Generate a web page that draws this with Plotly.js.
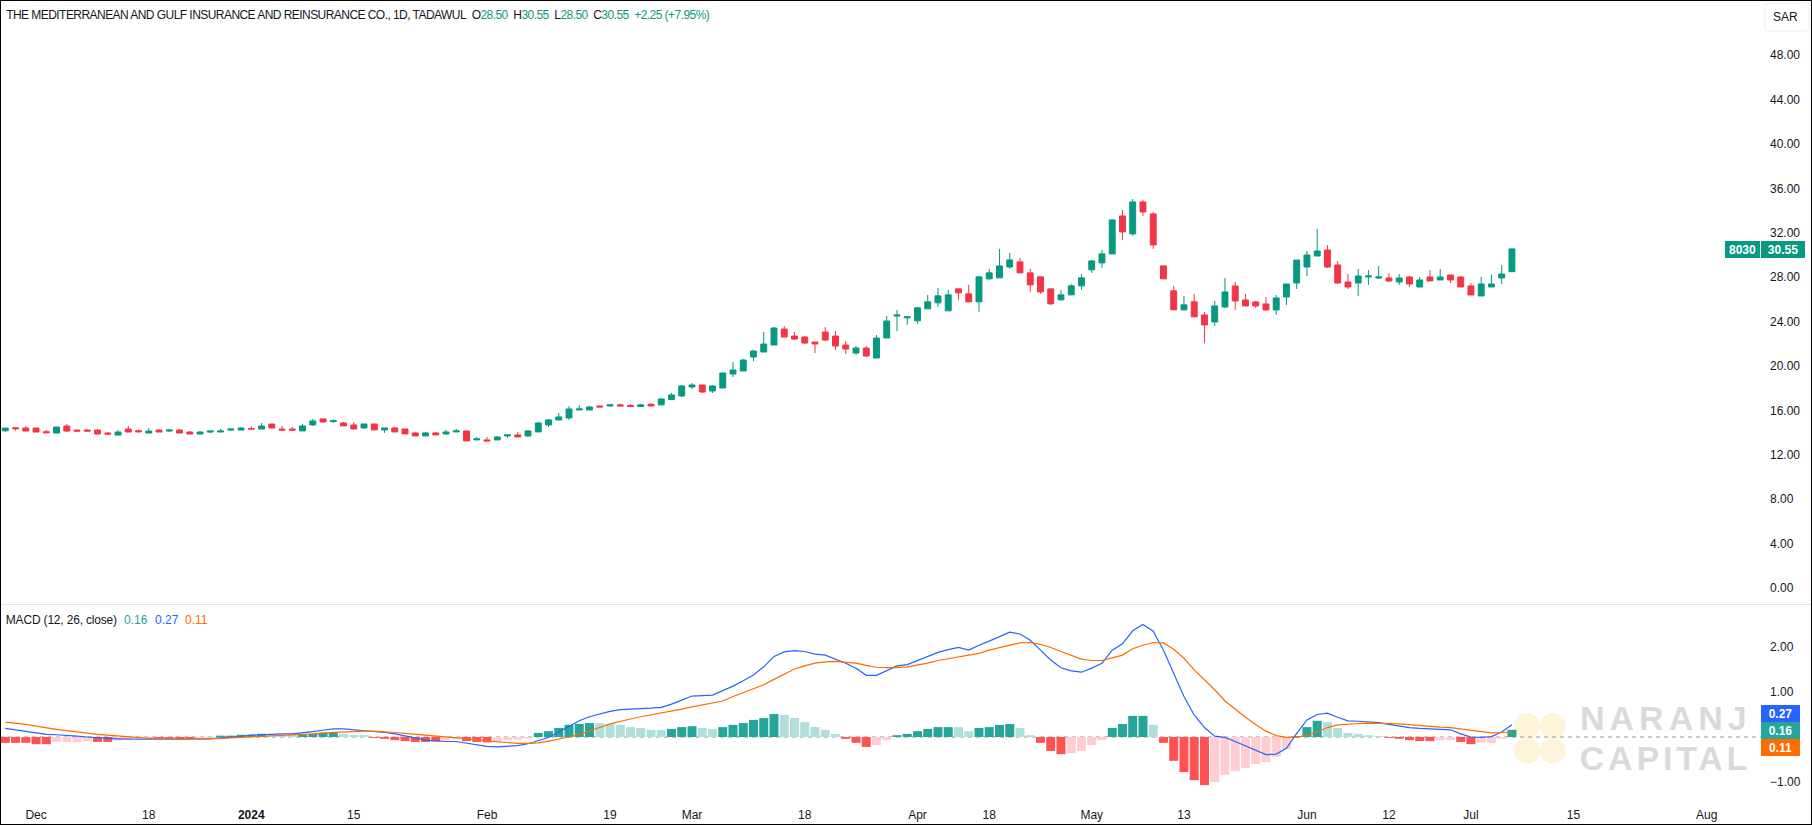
<!DOCTYPE html>
<html><head><meta charset="utf-8">
<script src="https://cdn.plot.ly/plotly-3.0.1.min.js"></script>
<style>
html,body{margin:0;padding:0;background:#fff;overflow:hidden}
#c{width:1812px;height:825px}
g.annotation[data-index="0"] text{letter-spacing:5px}
g.annotation[data-index="1"] text{letter-spacing:3.8px}
g.annotation[data-index="2"] text{letter-spacing:-0.55px}
g.annotation[data-index="3"] text{letter-spacing:-0.18px}
</style></head><body><div id="c"></div>
<script>
const opens=[14.17,14.44,14.41,14.41,14.08,13.96,14.59,14.23,14.23,14.23,
13.96,13.78,14.32,14.17,13.96,14.23,14.14,14.23,14.05,13.87,
14.05,14.05,14.23,14.23,14.35,14.32,14.77,14.32,14.32,14.15,
14.69,15.23,14.99,14.87,14.69,14.42,14.78,14.24,14.42,14.33,
13.97,13.70,13.97,13.88,14.06,14.15,13.34,13.34,13.34,13.70,
13.79,13.70,14.06,14.69,15.14,15.32,16.04,16.04,16.40,16.40,
16.50,16.45,16.35,16.55,16.50,16.97,17.30,18.11,18.29,17.75,
18.02,19.28,19.55,20.81,21.26,21.89,23.33,22.70,22.61,22.16,
23.06,22.70,21.89,21.17,21.62,20.72,22.52,24.50,24.34,24.07,
25.15,25.69,24.97,26.95,26.50,25.78,27.85,27.94,28.93,29.38,
28.39,28.03,26.95,25.96,26.41,27.22,28.66,29.29,30.10,33.52,
31.90,34.78,33.70,29.02,26.77,25.06,25.78,24.60,23.97,25.32,
27.21,25.95,25.77,25.59,25.05,26.22,27.48,28.92,29.91,30.45,
29.10,27.57,27.48,28.02,27.93,27.93,27.57,28.02,27.12,28.02,
27.75,28.20,28.02,27.21,26.31,27.12,27.93,28.50];
const highs=[14.41,14.50,14.59,14.41,14.23,14.50,14.77,14.23,14.32,14.32,
14.05,14.23,14.59,14.26,14.41,14.32,14.32,14.32,14.14,14.14,
14.14,14.32,14.32,14.50,14.59,14.86,14.77,14.59,14.50,14.78,
15.23,15.23,15.17,14.96,14.96,14.78,14.78,14.42,14.51,14.33,
14.06,14.06,14.06,14.24,14.33,14.15,13.61,13.61,13.70,13.79,
14.06,14.24,14.96,15.23,15.77,16.40,16.49,16.40,16.40,16.55,
16.60,16.55,16.60,16.65,17.10,17.57,18.29,18.47,18.29,18.29,
19.37,20.36,20.63,21.44,23.06,23.51,23.60,23.06,22.70,22.16,
23.51,23.15,22.25,21.80,21.80,22.79,24.50,25.04,24.43,25.33,
26.41,27.04,26.86,26.95,27.31,28.12,28.75,30.55,30.19,29.74,
28.75,28.03,26.95,26.86,27.40,28.30,29.56,30.46,33.16,34.06,
35.05,34.96,33.88,29.02,27.22,26.32,26.50,24.87,25.86,27.93,
27.57,26.49,25.86,26.22,26.40,27.39,29.55,30.36,32.34,30.90,
29.46,28.29,28.74,28.65,29.01,28.38,28.29,28.11,28.02,28.65,
28.74,28.20,28.11,27.48,28.02,28.20,29.10,30.55];
const lows=[14.05,14.17,14.14,14.05,13.99,13.96,14.05,14.05,14.14,13.87,
13.78,13.78,14.05,13.99,13.96,14.05,14.05,13.96,13.87,13.87,
13.96,14.05,14.14,14.23,14.32,14.32,14.41,14.23,14.14,14.15,
14.60,14.87,14.87,14.60,14.33,14.33,14.24,13.97,14.06,13.88,
13.70,13.70,13.79,13.79,14.06,13.25,13.34,13.25,13.34,13.52,
13.61,13.61,14.06,14.51,15.14,15.14,16.04,16.04,16.31,16.35,
16.35,16.30,16.30,16.35,16.45,16.97,17.21,17.93,17.57,17.57,
18.02,19.01,19.55,20.45,21.26,21.89,22.61,22.34,21.98,21.17,
22.25,21.44,21.08,20.99,20.81,20.72,22.52,23.15,23.71,23.80,
25.15,25.33,24.97,25.96,25.78,24.88,27.76,27.94,28.75,28.39,
26.68,26.50,25.51,25.87,26.41,26.86,28.39,28.84,30.10,31.36,
31.72,33.52,30.55,27.85,25.06,24.97,24.43,22.05,23.61,25.23,
25.05,25.41,25.23,24.96,24.60,25.50,26.94,28.11,29.91,28.83,
27.39,26.94,26.31,27.30,27.84,27.57,27.30,27.12,27.12,27.66,
27.75,27.48,27.12,26.40,26.31,27.12,27.39,28.50];
const closes=[14.41,14.35,14.14,14.05,13.99,14.50,14.14,14.14,14.14,13.87,
13.87,14.05,14.05,14.08,14.14,14.05,14.23,13.96,13.87,14.05,
14.14,14.14,14.32,14.41,14.32,14.59,14.41,14.23,14.23,14.60,
15.05,14.96,15.08,14.60,14.33,14.78,14.24,14.42,14.06,13.88,
13.70,13.97,13.79,14.06,14.15,13.25,13.43,13.25,13.61,13.79,
13.61,14.15,14.87,15.14,15.41,16.13,16.13,16.31,16.31,16.50,
16.40,16.35,16.50,16.40,17.03,17.39,18.20,18.29,17.66,18.20,
19.37,19.64,20.54,21.35,21.98,23.42,22.61,22.43,22.07,21.98,
22.34,21.80,21.53,21.62,20.90,22.52,24.05,24.59,24.43,25.24,
25.78,26.32,26.41,26.59,25.78,28.03,28.39,29.02,29.56,28.39,
27.31,26.68,25.60,26.41,27.22,27.94,29.47,30.10,33.16,32.08,
34.78,33.88,30.91,27.85,25.06,25.51,24.43,23.70,25.41,26.67,
25.86,25.41,25.41,25.05,26.13,27.39,29.55,30.00,30.36,28.92,
27.48,27.12,28.11,28.11,28.02,27.66,27.93,27.39,27.75,27.66,
28.02,27.75,27.12,26.40,27.39,27.39,28.29,30.55];
const histValues=[-.13,-.13,-.13,-.16,-.16,-.11,-.11,-.11,-.09,-.11,
-.11,-.08,-.07,-.05,-.04,-.04,-.05,-.05,-.05,-.03,
-.02,.03,.03,.05,.05,.07,.05,.05,.05,.05,
.07,.09,.09,.07,.05,.05,-.02,-.04,-.07,-.09,
-.11,-.11,-.10,-.07,-.05,-.09,-.11,-.12,-.11,-.07,
-.06,-.03,.09,.13,.20,.27,.29,.31,.31,.29,
.27,.22,.20,.16,.16,.18,.22,.24,.20,.18,
.22,.27,.31,.38,.42,.51,.49,.42,.33,.22,
.16,.07,-.04,-.13,-.22,-.18,-.07,.04,.07,.13,
.18,.22,.22,.22,.13,.20,.22,.27,.29,.20,
.04,-.13,-.31,-.38,-.36,-.31,-.18,-.07,.20,.29,
.47,.47,.27,-.13,-.53,-.78,-.96,-1.07,-1.00,-.84,
-.76,-.69,-.60,-.56,-.44,-.27,.02,.22,.36,.33,
.20,.09,.07,.04,.02,-.02,-.04,-.07,-.09,-.09,
-.07,-.07,-.11,-.16,-.13,-.13,-.04,.16];
const histState=("RRRRRppppRRppppRRRRppGGGGGLLLGGGGLLLRRRRRRRppRRRppppGGGGGGLLLLLLLGGGLLGGGGGGLLLLLLRRRppGGGGGGLLGGGGLLRRRppppGGGGLRRRRRppppppppGGGLLLLLLRRRRRppRRpppG").split("");
const macdLine=[.19,.16,.13,.09,.06,.05,.04,.02,.00,-.02,
-.03,-.04,-.05,-.05,-.05,-.05,-.05,-.05,-.05,-.05,
-.04,-.02,-.01,.01,.04,.05,.07,.07,.07,.09,
.12,.15,.18,.18,.16,.15,.13,.10,.07,.03,
-.02,-.07,-.09,-.10,-.10,-.14,-.18,-.21,-.22,-.21,
-.19,-.15,-.08,-.01,.11,.24,.36,.45,.51,.57,
.61,.62,.62,.64,.66,.73,.82,.91,.92,.93,
1.03,1.13,1.25,1.38,1.56,1.79,1.89,1.92,1.90,1.84,
1.82,1.73,1.64,1.53,1.37,1.37,1.47,1.58,1.61,1.70,
1.79,1.88,1.94,1.99,1.93,2.04,2.13,2.23,2.33,2.29,
2.15,1.93,1.71,1.54,1.47,1.44,1.53,1.64,1.93,2.07,
2.36,2.50,2.35,1.93,1.43,.90,.49,.21,.02,-.01,
-.10,-.20,-.29,-.39,-.38,-.25,.08,.38,.50,.53,
.44,.36,.35,.34,.32,.28,.24,.21,.19,.18,
.17,.16,.07,.00,-.01,.01,.11,.27];
const signalLine=[.33,.31,.28,.24,.20,.17,.14,.11,.08,.06,
.04,.02,.00,-.02,-.03,-.03,-.04,-.04,-.04,-.04,
-.04,-.03,-.02,-.01,.01,.02,.03,.04,.04,.06,
.07,.09,.10,.12,.13,.13,.13,.12,.10,.08,
.06,.04,.03,.01,-.02,-.04,-.06,-.09,-.11,-.13,
-.14,-.14,-.13,-.09,-.05,.00,.06,.13,.21,.29,
.35,.40,.45,.49,.53,.57,.62,.67,.71,.76,
.80,.90,.99,1.08,1.16,1.28,1.40,1.51,1.58,1.64,
1.67,1.68,1.66,1.64,1.59,1.55,1.54,1.54,1.56,1.60,
1.64,1.70,1.74,1.78,1.82,1.86,1.93,1.99,2.04,2.09,
2.10,2.06,1.99,1.90,1.81,1.73,1.70,1.70,1.76,1.82,
1.96,2.04,2.10,2.09,1.95,1.75,1.49,1.27,1.05,.80,
.61,.44,.28,.13,.03,-.01,-.01,.04,.11,.21,
.27,.29,.30,.31,.31,.30,.29,.27,.26,.24,
.22,.21,.18,.14,.11,.09,.10,.11];
const tickIdx=[3,14,24,34,47,59,67,78,89,96,106,115,127,135,143,153,166];
const tickLabels=["Dec","18","<b>2024</b>","15","Feb","19","Mar","18","Apr","18","May","13","Jun","12","Jul","15","Aug"];
const priceTicks=[0,4,8,12,16,20,24,28,32,36,40,44,48];
const macdTicks=[-1,1,2];
const macdTickText=["\u22121.00","1.00","2.00"];
const titleText="THE MEDITERRANEAN AND GULF INSURANCE AND REINSURANCE CO., 1D, TADAWUL";
const ohlcText=[["O","28.50"],["H","30.55"],["L","28.50"],["C","30.55"]];
const changeText="+2.25 (+7.95%)";
const symbolLabel="8030", lastLabel="30.55";
const macdLegend="MACD (12, 26, close)";
const macdValues=["0.16","0.27","0.11"];

const W=1812,H=825,PR=1761,PB=800;
const X=p=>p/PR, Y=p=>1-p/PB;
const GREEN="#089981",RED="#F23645",TXT="#131722";
const TEAL="#26a69a",BLUE="#2962ff",ORANGE="#ff6d00";
const histPalette={G:"#26a69a",L:"#b2dfdb",R:"#ff5252",p:"#ffcdd2"};
const font="'Liberation Sans',Arial,sans-serif";
const idx=opens.map((_,i)=>i);

const traces=[
 {type:"candlestick",x:idx,open:opens,high:highs,low:lows,close:closes,xaxis:"x",yaxis:"y",
  increasing:{line:{color:GREEN,width:1},fillcolor:GREEN},
  decreasing:{line:{color:RED,width:1},fillcolor:RED},whiskerwidth:0,showlegend:false,hoverinfo:"skip"},
 {type:"bar",x:idx,y:histValues,xaxis:"x",yaxis:"y2",marker:{color:histState.map(s=>histPalette[s]),line:{width:0}},showlegend:false,hoverinfo:"skip"},
 {type:"scatter",mode:"lines",x:idx,y:macdLine,xaxis:"x",yaxis:"y2",line:{color:BLUE,width:1.2},showlegend:false,hoverinfo:"skip"},
 {type:"scatter",mode:"lines",x:idx,y:signalLine,xaxis:"x",yaxis:"y2",line:{color:ORANGE,width:1.2},showlegend:false,hoverinfo:"skip"}
];
const lbl=(text,px,py,opt={})=>Object.assign({text,x:X(px),y:Y(py),xref:"paper",yref:"paper",showarrow:false,xanchor:"left",yanchor:"middle",font:{family:font,size:12,color:TXT},borderpad:0,borderwidth:0},opt);
const box=(text,x0,x1,y0,y1,bg)=>({text:"<b>"+text+"</b>",x:X((x0+x1)/2),y:Y((y0+y1)/2),xref:"paper",yref:"paper",showarrow:false,xanchor:"center",yanchor:"middle",width:x1-x0,height:y1-y0,bgcolor:bg,borderpad:0,borderwidth:0,font:{family:font,size:12,color:"#fff"}});
const gs=s=>`<span style="color:${GREEN}">${s}</span>`;
const header=titleText+"\u00a0\u00a0"+ohlcText.map(([k,v])=>k+gs(v)).join("\u00a0\u00a0")+"\u00a0\u00a0"+gs(changeText);
const annotations=[
 lbl("<b>NARANJ</b>",1595,718,{font:{family:font,size:34,color:"#dadada"}}),
 lbl("<b>CAPITAL</b>",1593,757.5,{font:{family:font,size:34,color:"#dadada"}}),
 lbl(header,-26,15),
 lbl(macdLegend,4,620),
 lbl(macdValues[0],124,620,{font:{family:font,size:12,color:TEAL}}),
 lbl(macdValues[1],155,620,{font:{family:font,size:12,color:BLUE}}),
 lbl(macdValues[2],185,620,{font:{family:font,size:12,color:ORANGE}}),
 lbl("SAR",1786,17,{xanchor:"center"}),
 box(symbolLabel,1725,1760,241,258,GREEN),
 box(lastLabel,1761,1805,241,258,GREEN),
 box(macdValues[1],1761,1800,705,722,BLUE),
 box(macdValues[0],1761,1800,722,739,TEAL),
 box(macdValues[2],1761,1800,739,756,ORANGE)
];
const paper=o=>Object.assign({xref:"paper",yref:"paper"},o);
const circ=(cx,cy,rx,ry)=>paper({type:"circle",x0:X(cx-rx),x1:X(cx+rx),y0:Y(cy-ry),y1:Y(cy+ry),fillcolor:"#fdf4d9",line:{width:0},layer:"below"});
const rr=(x0,y0,x1,y1,r)=>`M ${X(x0+r)} ${Y(y0)} L ${X(x1-r)} ${Y(y0)} Q ${X(x1)} ${Y(y0)} ${X(x1)} ${Y(y0+r)} L ${X(x1)} ${Y(y1-r)} Q ${X(x1)} ${Y(y1)} ${X(x1-r)} ${Y(y1)} L ${X(x0+r)} ${Y(y1)} Q ${X(x0)} ${Y(y1)} ${X(x0)} ${Y(y1-r)} L ${X(x0)} ${Y(y0+r)} Q ${X(x0)} ${Y(y0)} ${X(x0+r)} ${Y(y0)} Z`;
const shapes=[
 circ(1527,726,13,13),circ(1553,726,13,13),circ(1527,751,13,13),circ(1553,751,13,13),
 {type:"line",xref:"paper",yref:"y2",x0:0,x1:1,y0:0,y1:0,line:{color:"#9598a1",width:1,dash:"4px,4px"},layer:"below"},
 paper({type:"line",x0:X(0),x1:X(W),y0:Y(604.5),y1:Y(604.5),line:{color:"#e0e3eb",width:1}}),
 paper({type:"path",path:rr(1765,3.5,1809,31,4),line:{color:"#f0f3fa",width:1.5},fillcolor:"rgba(0,0,0,0)"}),
 paper({type:"rect",x0:X(0),x1:X(W),y0:Y(0),y1:Y(H),line:{color:"#000",width:2},layer:"above"})
];
const layout={
 width:W,height:H,margin:{l:0,r:W-PR,t:0,b:H-PB,pad:0},paper_bgcolor:"#fff",plot_bgcolor:"rgba(0,0,0,0)",
 showlegend:false,boxgap:0.176,bargap:0.12,hovermode:false,
 xaxis:{anchor:"y2",range:[-0.517,171.3],tickmode:"array",tickvals:tickIdx,ticktext:tickLabels,ticklen:0,showgrid:false,zeroline:false,showline:false,
   ticklabelstandoff:6,tickfont:{family:font,size:12,color:TXT},tickangle:0,rangeslider:{visible:false},fixedrange:true},
 yaxis:{domain:[Y(604),1],range:[(588-604)/11.1,588/11.1],side:"right",tickmode:"array",tickvals:priceTicks,tickformat:".2f",ticklen:0,showgrid:false,zeroline:false,showline:false,
   ticklabelstandoff:8,tickfont:{family:font,size:12,color:TXT},fixedrange:true},
 yaxis2:{domain:[0,Y(605)],range:[(737-800)/45,(737-605)/45],side:"right",tickmode:"array",tickvals:macdTicks,ticktext:macdTickText,ticklen:0,showgrid:false,zeroline:false,showline:false,
   ticklabelstandoff:8,tickfont:{family:font,size:12,color:TXT},fixedrange:true},
 annotations,shapes
};
Plotly.newPlot("c",traces,layout,{staticPlot:true,displayModeBar:false});
</script></body></html>
